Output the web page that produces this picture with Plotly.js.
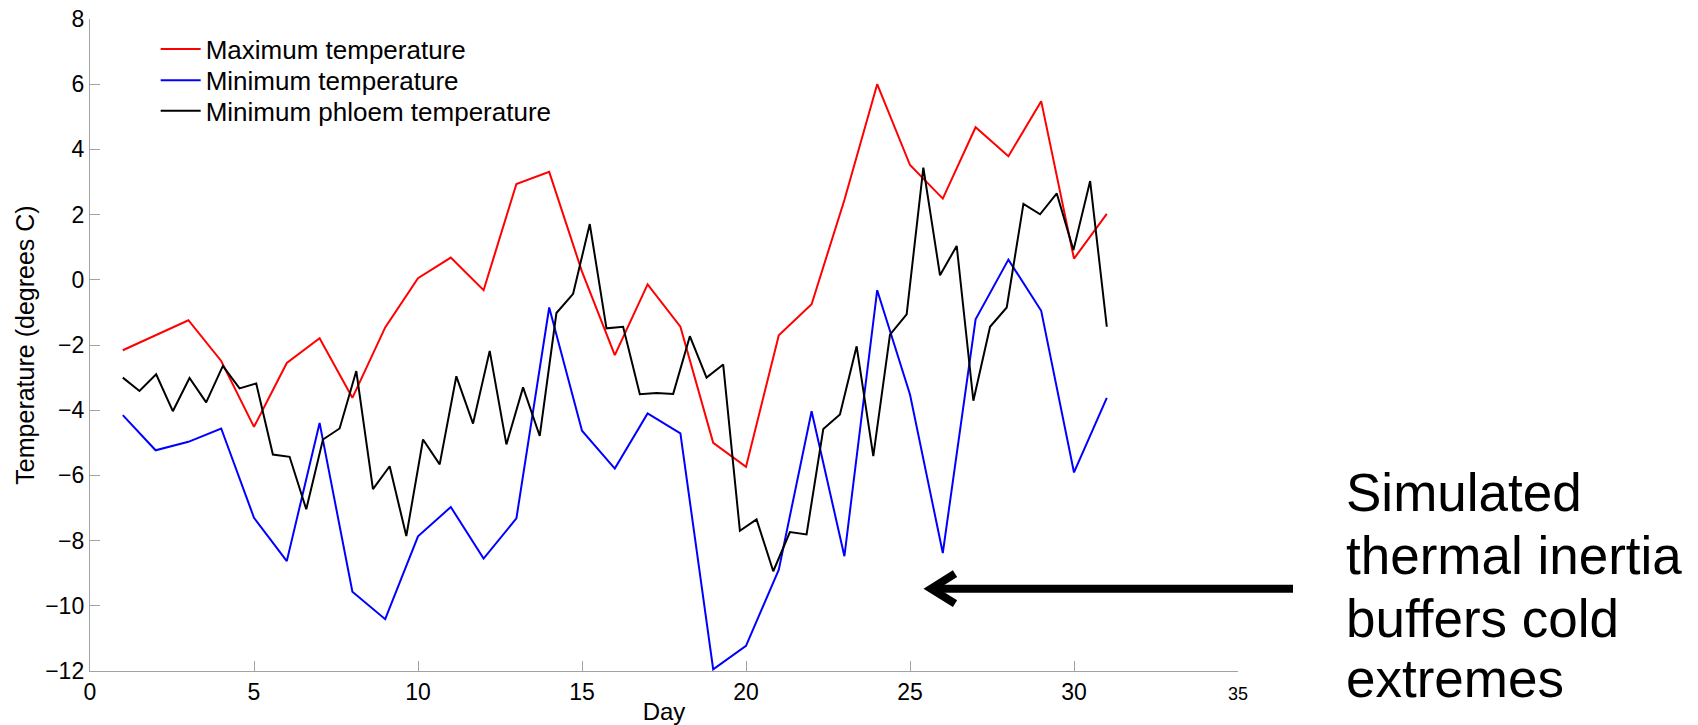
<!DOCTYPE html>
<html>
<head>
<meta charset="utf-8">
<script src="https://cdn.plot.ly/plotly-3.0.1.min.js"></script>
<style>html,body{margin:0;padding:0;background:#fff;}#chart{width:1698px;height:725px;}</style>
</head>
<body>
<div id="chart"></div>
<script>
// ---- Data ----
const days = [1,2,3,4,5,6,7,8,9,10,11,12,13,14,15,16,17,18,19,20,21,22,23,24,25,26,27,28,29,30,31];

const maxTemp = [-2.16, -1.70, -1.24, -2.49, -4.51, -2.55, -1.79, -3.62, -1.46, 0.05,
                 0.68, -0.32, 2.94, 3.31, 0.25, -2.31, -0.14, -1.44, -5.00, -5.74,
                 -1.70, -0.75, 2.45, 6.00, 3.52, 2.49, 4.68, 3.79, 5.48, 0.65, 2.02];

const minTemp = [-4.15, -5.23, -4.97, -4.56, -7.30, -8.63, -4.39, -9.57, -10.41, -7.87,
                 -6.97, -8.55, -7.32, -0.85, -4.63, -5.79, -4.10, -4.71, -11.95, -11.23,
                 -8.89, -4.03, -8.48, -0.32, -3.52, -8.38, -1.21, 0.62, -0.95, -5.91, -3.62];

const phloemDay = [1.000, 1.508, 2.017, 2.525, 3.034, 3.542, 4.051, 4.559, 5.068, 5.576,
                   6.085, 6.593, 7.102, 7.610, 8.119, 8.627, 9.136, 9.644, 10.153, 10.661,
                   11.169, 11.678, 12.186, 12.695, 13.203, 13.712, 14.220, 14.729, 15.237, 15.746,
                   16.254, 16.763, 17.271, 17.780, 18.288, 18.797, 19.305, 19.814, 20.322, 20.831,
                   21.339, 21.847, 22.356, 22.864, 23.373, 23.881, 24.390, 24.898, 25.407, 25.915,
                   26.424, 26.932, 27.441, 27.949, 28.458, 28.966, 29.475, 29.983, 30.492, 31.000];

const phloemTemp = [-3.00, -3.41, -2.90, -4.03, -3.01, -3.76, -2.64, -3.33, -3.18, -5.36,
                    -5.43, -7.04, -4.90, -4.56, -2.80, -6.42, -5.72, -7.86, -4.90, -5.66,
                    -2.96, -4.41, -2.18, -5.05, -3.30, -4.79, -1.02, -0.43, 1.71, -1.49,
                    -1.44, -3.51, -3.47, -3.50, -1.73, -3.00, -2.60, -7.70, -7.35, -8.94,
                    -7.74, -7.81, -4.58, -4.13, -2.04, -5.41, -1.68, -1.06, 3.44, 0.14,
                    1.04, -3.71, -1.44, -0.85, 2.33, 2.01, 2.65, 0.91, 3.03, -1.44];

const seriesNames = ["Maximum temperature", "Minimum temperature", "Minimum phloem temperature"];
const xTickVals = [0, 5, 10, 15, 20, 25, 30, 35];
const xTickText = ["0", "5", "10", "15", "20", "25", "30", '<span style="font-size:18px">35</span>'];
const yTickVals = [-12, -10, -8, -6, -4, -2, 0, 2, 4, 6, 8];
const xAxisTitle = "Day";
const yAxisTitle = "Temperature (degrees C)";
const noteLines = ["Simulated", "thermal inertia", "buffers cold", "extremes"];

// ---- Drawing ----
const FONT = "Liberation Sans, Arial, Helvetica, sans-serif";
const AXIS_GRAY = "#a3a3a3";

const traces = [
  {x: days, y: maxTemp, name: seriesNames[0], type: "scatter", mode: "lines",
   line: {color: "#ff0000", width: 2}, legend: "legend"},
  {x: days, y: minTemp, name: seriesNames[1], type: "scatter", mode: "lines",
   line: {color: "#0000ff", width: 2}, legend: "legend2"},
  {x: phloemDay, y: phloemTemp, name: seriesNames[2], type: "scatter", mode: "lines",
   line: {color: "#000000", width: 2}, legend: "legend3"}
];

function legendAt(y) {
  return {x: 0.0572, y: y, xanchor: "left", yanchor: "middle",
          bgcolor: "rgba(0,0,0,0)", borderwidth: 0,
          font: {family: FONT, size: 26, color: "#000"}, itemwidth: 40};
}

const noteY = [0.2745, 0.1779, 0.0798, -0.0120];
const annotations = noteLines.map((t, i) => ({
  text: t, xref: "paper", yref: "paper", x: 1.0920, y: noteY[i],
  xanchor: "left", yanchor: "middle", showarrow: false,
  font: {family: FONT, size: 53, color: "#000"}
}));

const layout = {
  width: 1698, height: 725,
  margin: {l: 90, r: 460, t: 19, b: 54, pad: 0},
  paper_bgcolor: "#ffffff", plot_bgcolor: "#ffffff",
  font: {family: FONT, color: "#000"},
  showlegend: true,
  legend: legendAt(0.9540),
  legend2: legendAt(0.9060),
  legend3: legendAt(0.8590),
  xaxis: {
    range: [0, 35], tickvals: xTickVals, ticktext: xTickText,
    ticks: "inside", ticklen: 10, tickwidth: 1, tickcolor: AXIS_GRAY,
    showline: true, linecolor: AXIS_GRAY, linewidth: 1.2,
    showgrid: false, zeroline: false, mirror: false,
    tickfont: {family: FONT, size: 23, color: "#000"},
    title: {text: xAxisTitle, font: {family: FONT, size: 24, color: "#000"}, standoff: 0}
  },
  yaxis: {
    range: [-12, 8], tickvals: yTickVals,
    ticks: "inside", ticklen: 10, tickwidth: 1, tickcolor: AXIS_GRAY,
    showline: true, linecolor: AXIS_GRAY, linewidth: 1.2,
    showgrid: false, zeroline: false, mirror: false,
    tickfont: {family: FONT, size: 23, color: "#000"},
    title: {text: yAxisTitle, font: {family: FONT, size: 25, color: "#000"}, standoff: 3}
  },
  shapes: [
    {type: "line", xref: "paper", yref: "paper", x0: 1.0479, y0: 0.1262, x1: 0.7360, y1: 0.1262,
     line: {color: "#000", width: 8}},
    {type: "path", xref: "paper", yref: "paper",
     path: "M 0.7535 0.1492 L 0.7326 0.1262 L 0.7535 0.1032",
     line: {color: "#000", width: 8}}
  ],
  annotations: annotations
};

Plotly.newPlot("chart", traces, layout, {staticPlot: true, displayModeBar: false});
</script>
</body>
</html>
